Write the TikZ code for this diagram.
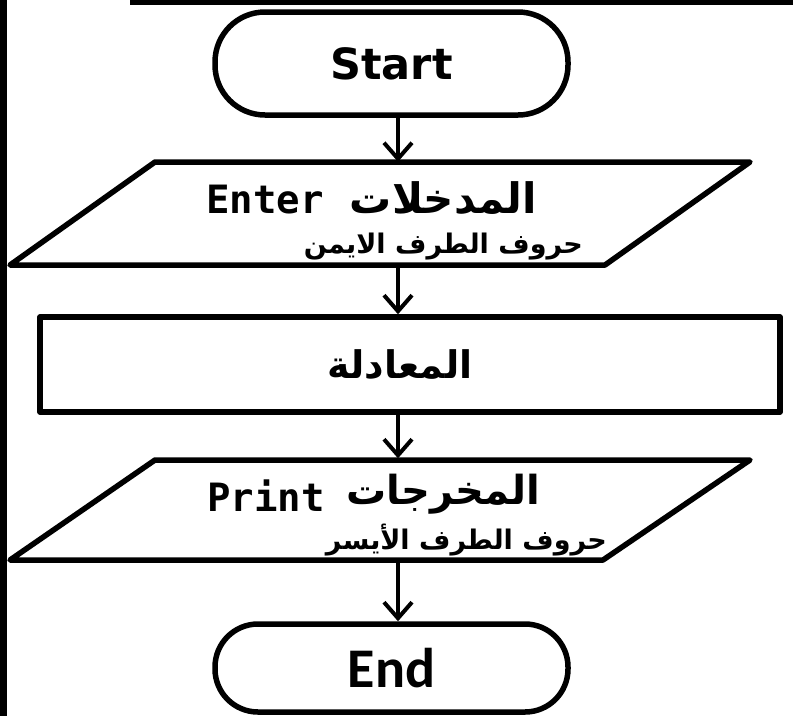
\documentclass[tikz,border=0pt]{standalone}
\usepackage{fontspec}
\usetikzlibrary{arrows.meta}
\TeXXeTstate=1
\newfontfamily\arabicfont[Script=Arabic]{DejaVu Sans}
\newfontfamily\verdfont{DejaVu Sans}
\newfontfamily\monofont{DejaVu Sans Mono}
\newfontfamily\calfont{Carlito}
\tikzset{
  shapeline/.style={line width=5.5pt, line join=round},
  termbox/.style={shapeline, draw, rectangle, rounded corners=50pt, minimum width=353pt, minimum height=103pt, inner sep=0pt},
  procbox/.style={shapeline, draw, rectangle, minimum width=740pt, minimum height=95pt, inner sep=0pt},
  iobox/.style={rectangle, minimum width=740pt, minimum height=103pt, inner sep=0pt},
  flowarrow/.style={line width=4pt, -{Straight Barb[length=16pt,width=28pt,line width=4pt]}},
  lat/.style={font=\monofont\bfseries\fontsize{39}{44}\selectfont, inner sep=0pt},
  arb/.style={font=\arabicfont\bfseries\fontsize{42}{48}\selectfont, inner sep=0pt},
  arbsmall/.style={font=\arabicfont\bfseries\fontsize{27}{32}\selectfont, inner sep=0pt},
}
\begin{document}
\begin{tikzpicture}[x=1pt,y=-1pt]
\useasboundingbox (0,0) rectangle (793,716);
\fill[white] (0,0) rectangle (793,716);
% frame bars
\fill[black] (0,0) rectangle (7,716);
\fill[black] (130,0) rectangle (793,5);
% start
\node[termbox, font=\verdfont\bfseries\fontsize{43}{48}\selectfont] (start) at (391.5,63.5) {Start};
% input parallelogram
\node[iobox] (in) at (380,213.5) {};
\draw[shapeline] (155,162) -- (750,162) -- (605,265) -- (10,265) -- cycle;
\node[lat, anchor=west] (enter) at (206,200) {Enter};
\node[arb, anchor=east] (inar) at (537,198) {\beginR المدخلات\endR};
\node[arbsmall, anchor=east] (inright) at (583,247) {\beginR حروف الطرف الايمن\endR};
% process
\node[procbox, font=\arabicfont\bfseries\fontsize{38}{44}\selectfont] (proc) at (410,364.5) {};
\node[font=\arabicfont\bfseries\fontsize{38}{44}\selectfont, inner sep=0pt] (proctext) at (400,364.5) {\beginR المعادلة\endR};
% output parallelogram
\node[iobox] (out) at (380,510) {};
\draw[shapeline] (155,460) -- (750,460) -- (603,560) -- (10,560) -- cycle;
\node[lat, anchor=west] (print) at (207,496) {Print};
\node[arb, font=\arabicfont\bfseries\fontsize{40}{46}\selectfont, anchor=east] (outar) at (540,494) {\beginR المخرجات\endR};
\node[arbsmall, anchor=east] (outleft) at (607,540) {\beginR حروف الطرف الأيسر\endR};
% end
\node[termbox, rounded corners=43pt, minimum height=88pt, font=\calfont\bfseries\fontsize{56}{60}\selectfont] (end) at (391.5,668) {End};
% connectors
\coordinate (x1) at (398,0);
\draw[flowarrow] (start.south -| x1) -- (in.north -| x1);
\draw[flowarrow] (in.south -| x1) -- (proc.north -| x1);
\draw[flowarrow] (proc.south -| x1) -- (out.north -| x1);
\draw[flowarrow] (out.south -| x1) -- (end.north -| x1);
\end{tikzpicture}
\end{document}
